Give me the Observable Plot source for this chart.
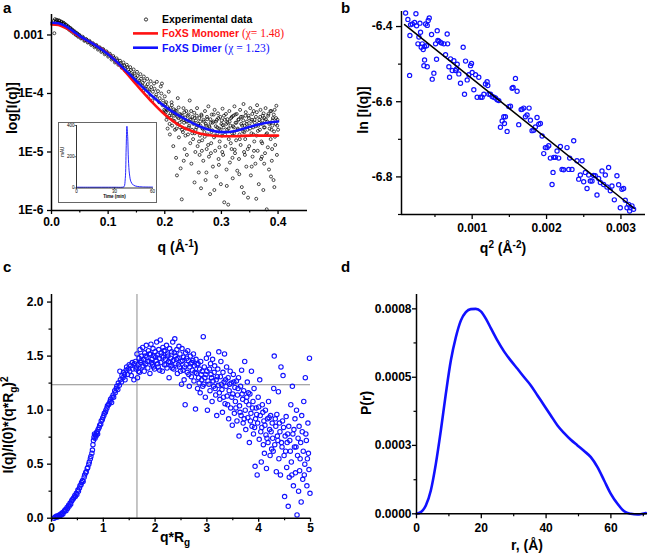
<!DOCTYPE html>
<html><head><meta charset="utf-8">
<script src="https://cdn.jsdelivr.net/npm/d3@7"></script>
<script src="https://cdn.jsdelivr.net/npm/@observablehq/plot@0.6"></script>
<style>
body{margin:0;background:#fff;}
#fig{position:relative;width:660px;height:558px;background:#fff;overflow:hidden;}
#fig svg{position:absolute;overflow:visible;}
#inset{position:absolute;left:58px;top:122px;width:97px;height:79px;border:1px solid #666;background:#fff;}
#inset svg{left:0;top:0;}
</style></head><body><div id="fig"></div>
<script>
// ---------- Panel a: SAXS profile (q, log10 I) ----------
const expIntensity = [
[0.004,-2.76],[0.005,-2.97],[0.006,-2.73],[0.007,-2.78],[0.008,-2.77],[0.009,-2.74],[0.010,-2.75],[0.011,-2.80],[0.012,-2.79],[0.013,-2.75],[0.014,-2.76],[0.015,-2.81],[0.016,-2.80],[0.017,-2.77],[0.018,-2.78],[0.019,-2.83],[0.020,-2.81],[0.021,-2.79],[0.022,-2.80],[0.023,-2.85],[0.024,-2.84],[0.025,-2.82],[0.026,-2.83],[0.027,-2.88],[0.028,-2.87],[0.029,-2.85],[0.030,-2.86],[0.031,-2.91],[0.032,-2.90],[0.033,-2.88],[0.034,-2.89],[0.035,-2.94],[0.036,-2.92],[0.037,-2.91],[0.038,-2.93],[0.039,-2.97],[0.040,-2.95],[0.041,-2.94],[0.042,-2.96],[0.043,-3.00],[0.044,-2.99],[0.045,-2.97],[0.046,-2.98],[0.047,-3.03],[0.048,-3.02],[0.049,-3.00],[0.050,-3.01],[0.052,-3.06],[0.053,-3.05],[0.055,-3.03],[0.056,-3.05],[0.058,-3.10],[0.059,-3.09],[0.061,-3.07],[0.062,-3.08],[0.064,-3.13],[0.065,-3.12],[0.067,-3.10],[0.068,-3.12],[0.070,-3.17],[0.071,-3.15],[0.073,-3.14],[0.074,-3.16],[0.076,-3.21],[0.077,-3.19],[0.079,-3.17],[0.080,-3.19],[0.082,-3.25],[0.083,-3.23],[0.085,-3.21],[0.086,-3.23],[0.088,-3.29],[0.089,-3.27],[0.091,-3.24],[0.092,-3.26],[0.094,-3.33],[0.095,-3.31],[0.097,-3.28],[0.098,-3.30],[0.100,-3.37],[0.101,-3.35],[0.103,-3.32],[0.104,-3.35],[0.106,-3.42],[0.107,-3.40],[0.109,-3.36],[0.110,-3.39],[0.112,-3.47],[0.113,-3.45],[0.115,-3.40],[0.116,-3.43],[0.118,-3.51],[0.119,-3.49],[0.121,-3.44],[0.122,-3.48],[0.124,-3.56],[0.125,-3.53],[0.127,-3.47],[0.128,-3.52],[0.130,-3.61],[0.131,-3.58],[0.133,-3.51],[0.134,-3.55],[0.136,-3.66],[0.137,-3.63],[0.139,-3.55],[0.140,-3.60],[0.142,-3.70],[0.143,-3.67],[0.145,-3.59],[0.146,-3.66],[0.148,-3.76],[0.149,-3.73],[0.151,-3.63],[0.152,-3.70],[0.154,-3.81],[0.155,-3.78],[0.157,-3.67],[0.158,-3.75],[0.160,-3.86],[0.161,-3.82],[0.162,-3.95],[0.163,-3.71],[0.164,-3.78],[0.166,-3.91],[0.167,-3.88],[0.169,-3.75],[0.170,-3.84],[0.171,-4.05],[0.172,-3.96],[0.173,-3.93],[0.175,-3.79],[0.176,-3.89],[0.178,-4.12],[0.179,-3.97],[0.181,-3.83],[0.182,-3.92],[0.184,-4.06],[0.185,-4.02],[0.186,-3.80],[0.188,-3.96],[0.190,-4.15],[0.191,-4.08],[0.193,-3.88],[0.194,-4.00],[0.195,-3.83],[0.196,-4.20],[0.197,-4.12],[0.199,-4.28],[0.200,-4.05],
[0.201,-4.18],[0.202,-4.32],[0.203,-4.45],[0.204,-4.22],[0.205,-4.60],[0.206,-4.28],[0.207,-3.97],[0.208,-4.38],[0.209,-4.70],[0.210,-4.25],[0.211,-4.41],[0.212,-4.15],[0.213,-4.55],[0.214,-4.33],[0.215,-4.90],[0.216,-4.27],[0.217,-4.47],[0.218,-4.62],[0.219,-4.36],[0.220,-5.10],[0.221,-4.30],[0.222,-4.52],[0.223,-4.08],[0.224,-4.42],[0.225,-4.75],[0.226,-4.35],[0.227,-4.58],[0.228,-5.28],[0.229,-4.44],[0.230,-5.81],[0.231,-4.38],[0.232,-4.66],[0.233,-4.25],[0.234,-4.50],[0.235,-4.95],[0.236,-4.41],[0.237,-4.60],[0.238,-4.30],[0.239,-5.05],[0.240,-4.48],[0.241,-4.70],[0.242,-4.36],[0.243,-4.55],[0.244,-4.12],[0.245,-4.85],[0.246,-4.45],[0.247,-5.20],[0.248,-4.62],[0.249,-4.40],[0.250,-4.78],[0.251,-4.50],[0.252,-4.33],[0.253,-4.68],[0.254,-5.00],[0.255,-4.46],[0.256,-4.58],[0.257,-4.25],[0.258,-4.90],[0.259,-4.52],[0.260,-5.35],[0.261,-4.42],[0.262,-4.72],[0.263,-4.55],[0.264,-5.62],[0.265,-4.38],[0.266,-4.80],[0.267,-4.60],[0.268,-5.15],[0.269,-4.48],[0.270,-4.66],[0.271,-4.30],[0.272,-5.48],[0.273,-4.55],[0.274,-4.95],[0.275,-4.44],[0.276,-4.70],[0.277,-4.22],[0.278,-5.08],[0.279,-4.58],[0.280,-5.72],[0.281,-4.50],[0.282,-4.85],[0.283,-4.36],[0.284,-4.63],[0.285,-5.25],[0.286,-4.48],[0.287,-4.75],[0.288,-4.28],[0.289,-4.98],[0.290,-4.56],[0.291,-5.42],[0.292,-4.45],[0.293,-4.68],[0.294,-4.34],[0.295,-5.12],[0.296,-4.60],[0.297,-4.82],[0.298,-4.40],[0.299,-5.55],[0.300,-4.52],[0.301,-4.72],[0.302,-4.26],[0.303,-5.05],[0.304,-4.58],[0.305,-5.86],[0.306,-4.45],[0.307,-4.90],[0.308,-4.35],[0.309,-5.30],[0.310,-4.62],[0.311,-4.50],[0.312,-5.90],[0.313,-4.78],[0.314,-4.30],[0.315,-5.18],[0.316,-4.55],[0.317,-4.42],[0.318,-4.95],[0.319,-4.68],[0.320,-5.45],[0.321,-4.38],[0.322,-4.58],[0.323,-4.22],[0.324,-5.02],[0.325,-4.50],[0.326,-4.80],[0.327,-4.35],[0.328,-5.32],[0.329,-4.60],[0.330,-4.45],[0.331,-5.12],[0.332,-4.70],[0.333,-4.28],[0.334,-4.88],[0.335,-4.52],[0.336,-5.60],[0.337,-4.40],[0.338,-4.65],[0.339,-4.18],[0.340,-5.00],[0.341,-4.55],[0.342,-4.78],[0.343,-4.32],[0.344,-5.25],[0.345,-4.48],[0.346,-4.62],[0.347,-5.78],[0.348,-4.38],[0.349,-4.90],[0.350,-4.55],[0.351,-4.25],[0.352,-5.40],[0.353,-4.68],[0.354,-4.45],[0.355,-5.08],[0.356,-4.58],[0.357,-4.30],[0.358,-4.82],[0.359,-4.50],[0.360,-5.20],[0.361,-4.40],[0.362,-4.72],[0.363,-4.20],[0.364,-4.98],[0.365,-4.55],[0.366,-5.55],[0.367,-4.45],[0.368,-4.62],[0.369,-4.28],[0.370,-5.12],[0.371,-4.52],[0.372,-4.85],[0.373,-4.38],[0.374,-5.65],[0.375,-4.58],[0.376,-4.42],[0.377,-5.02],[0.378,-4.25],[0.379,-4.70],[0.380,-5.98],[0.381,-4.48],[0.382,-4.92],[0.383,-4.35],[0.384,-5.30],[0.385,-4.60],[0.386,-4.50],[0.387,-4.78],[0.388,-4.30],[0.389,-5.15],[0.390,-4.55],[0.391,-4.42],[0.392,-5.48],[0.393,-4.65],[0.394,-4.28],[0.395,-4.88],[0.396,-4.52],[0.397,-4.21],[0.398,-5.05],[0.399,-4.45],[0.400,-4.62],
[0.2005,-4.30],[0.2025,-4.15],[0.2045,-4.40],[0.2065,-4.26],[0.2085,-4.52],[0.2105,-4.34],[0.2125,-4.20],[0.2145,-4.46],[0.2165,-4.38],[0.2185,-4.29],[0.2205,-4.60],[0.2225,-4.40],[0.2245,-4.24],[0.2265,-4.50],[0.2285,-4.36],[0.2305,-4.62],[0.2325,-4.45],[0.2345,-4.32],[0.2365,-4.72],[0.2385,-4.48],[0.2405,-4.38],[0.2425,-4.58],[0.2445,-4.44],[0.2465,-4.30],[0.2485,-4.68],[0.2505,-4.52],[0.2525,-4.42],[0.2545,-4.62],[0.2565,-4.38],[0.2585,-4.55],[0.2605,-4.82],[0.2625,-4.48],[0.2645,-4.36],[0.2665,-4.60],[0.2685,-4.45],[0.2705,-4.74],[0.2725,-4.52],[0.2745,-4.40],[0.2765,-4.88],[0.2785,-4.56],[0.2805,-4.44],[0.2825,-4.66],[0.2845,-4.50],[0.2865,-4.36],[0.2885,-4.72],[0.2905,-4.48],[0.2925,-4.58],[0.2945,-4.42],[0.2965,-4.92],[0.2985,-4.62],[0.3005,-4.46],[0.3025,-4.54],[0.3045,-4.38],[0.3065,-4.70],[0.3085,-4.52],[0.3105,-4.44],[0.3125,-4.60],[0.3145,-4.48],[0.3165,-4.85],[0.3185,-4.40],[0.3205,-4.56],[0.3225,-4.68],[0.3245,-4.36],[0.3265,-4.50],[0.3285,-4.62],[0.3305,-4.44],[0.3325,-4.78],[0.3345,-4.40],[0.3365,-4.55],[0.3385,-4.46],[0.3405,-4.66],[0.3425,-4.38],[0.3445,-4.52],[0.3465,-4.95],[0.3485,-4.42],[0.3505,-4.60],[0.3525,-4.48],[0.3545,-4.35],[0.3565,-4.70],[0.3585,-4.45],[0.3605,-4.56],[0.3625,-4.32],[0.3645,-4.64],[0.3665,-4.50],[0.3685,-4.40],[0.3705,-4.82],[0.3725,-4.46],[0.3745,-4.34],[0.3765,-4.58],[0.3785,-4.44],[0.3805,-4.68],[0.3825,-4.38],[0.3845,-4.52],[0.3865,-4.30],[0.3885,-4.62],[0.3905,-4.46],[0.3925,-4.36],[0.3945,-4.74],[0.3965,-4.42],[0.3985,-4.55],
[0.2215,-5.40],[0.2335,-5.15],[0.2525,-5.52],[0.2615,-5.05],[0.2735,-5.35],[0.2875,-5.65],[0.2955,-5.22],[0.3095,-5.58],[0.3195,-5.10],[0.3315,-5.38],[0.3395,-5.70],[0.3535,-5.25],[0.3615,-5.80],[0.3755,-5.20],[0.3875,-5.42],[0.3935,-5.60],[0.2655,-4.98],[0.2815,-5.02],[0.3015,-5.00],[0.3235,-4.96],[0.3415,-5.05],[0.3575,-4.98],[0.3715,-5.08],[0.3895,-4.95]
];
const fitQ        = [0, 0.0125, 0.025, 0.0375, 0.05, 0.075, 0.1, 0.125, 0.15, 0.175, 0.2, 0.225, 0.25, 0.275, 0.3, 0.325, 0.35, 0.375, 0.4];
const monomerLogI = [-2.82, -2.83, -2.88, -2.95, -3.03, -3.16, -3.32, -3.57, -3.85, -4.12, -4.36, -4.54, -4.65, -4.71, -4.73, -4.73, -4.72, -4.72, -4.72];
const dimerLogI   = [-2.79, -2.80, -2.85, -2.93, -3.02, -3.16, -3.33, -3.55, -3.79, -4.02, -4.22, -4.38, -4.51, -4.61, -4.66, -4.64, -4.57, -4.51, -4.48];
const aXTicks = [0, 0.1, 0.2, 0.3, 0.4];
const aXTickLabels = ["0.0", "0.1", "0.2", "0.3", "0.4"];
const aXMinor = [0.05, 0.15, 0.25, 0.35];
const aYTicks = [-6, -5, -4, -3];
const aYTickLabels = ["1E-6", "1E-5", "1E-4", "0.001"];

// inset: SEC chromatogram
const hplcTime = [0, 10, 20, 30, 36, 37.5, 38.5, 39.2, 39.8, 40.4, 41, 41.8, 43, 45, 48, 52, 60];
const hplcAbs  = [5, 5, 5, 5, 5, 8, 60, 250, 395, 330, 180, 90, 40, 18, 10, 7, 6];
const insetXTicks = [0, 30, 60];
const insetYTicks = [0, 200, 400];

// ---------- Panel b: Guinier (q^2, ln I) ----------
const guinierPts = [
[0.000105,-6.364],[0.000136,-6.381],[0.000163,-6.424],[0.000172,-6.395],[0.000195,-6.393],[0.000226,-6.389],[0.000244,-6.366],[0.000253,-6.398],[0.000271,-6.446],[0.000298,-6.391],[0.000159,-6.530],[0.000284,-6.428],[0.000306,-6.415],[0.000329,-6.446],[0.000342,-6.461],[0.000360,-6.453],[0.000374,-6.393],[0.000396,-6.397],[0.000409,-6.384],[0.000423,-6.377],[0.000387,-6.451],[0.000315,-6.455],[0.000351,-6.504],[0.000360,-6.489],[0.000396,-6.507],[0.000454,-6.421],[0.000463,-6.540],[0.000485,-6.524],[0.000508,-6.446],[0.000530,-6.411],[0.000521,-6.487],[0.000539,-6.437],[0.000553,-6.439],[0.000575,-6.442],[0.000588,-6.444],[0.000620,-6.446],[0.000664,-6.420],[0.000642,-6.475],[0.000670,-6.446],[0.000687,-6.507],[0.000696,-6.535],[0.000709,-6.486],[0.000732,-6.517],[0.000754,-6.491],[0.000776,-6.517],[0.000790,-6.513],[0.000799,-6.500],[0.000821,-6.526],[0.000843,-6.551],[0.000879,-6.455],[0.000897,-6.580],[0.000911,-6.492],[0.000933,-6.542],[0.000955,-6.528],[0.000978,-6.504],[0.000991,-6.498],[0.001000,-6.522],[0.001022,-6.568],[0.001045,-6.528],[0.001067,-6.588],[0.001089,-6.535],[0.001112,-6.588],[0.001134,-6.588],[0.001157,-6.580],[0.001179,-6.553],[0.001201,-6.547],[0.001210,-6.557],[0.001224,-6.580],[0.001246,-6.580],[0.001268,-6.586],[0.001291,-6.588],[0.001313,-6.590],[0.001336,-6.595],[0.001358,-6.597],[0.001380,-6.668],[0.001403,-6.651],[0.001425,-6.640],[0.001434,-6.658],[0.001447,-6.640],[0.001470,-6.679],[0.001492,-6.613],[0.001515,-6.612],[0.001537,-6.564],[0.001550,-6.562],[0.001582,-6.538],[0.001604,-6.572],[0.001626,-6.661],[0.001658,-6.621],[0.001671,-6.620],[0.001694,-6.617],[0.001716,-6.640],[0.001738,-6.635],[0.001765,-6.617],[0.001783,-6.649],[0.001805,-6.677],[0.001828,-6.676],[0.001850,-6.667],[0.001872,-6.642],[0.001895,-6.660],[0.001917,-6.658],[0.001940,-6.691],[0.001962,-6.738],[0.001984,-6.722],[0.002007,-6.722],[0.002029,-6.717],[0.002051,-6.750],[0.002074,-6.820],[0.002087,-6.788],[0.002096,-6.748],[0.002119,-6.748],[0.002141,-6.731],[0.002163,-6.750],[0.002186,-6.719],[0.002208,-6.780],[0.002230,-6.781],[0.002275,-6.722],[0.002298,-6.780],[0.002311,-6.750],[0.002342,-6.780],[0.002365,-6.704],[0.002409,-6.757],[0.002432,-6.806],[0.002454,-6.795],[0.002477,-6.757],[0.002499,-6.813],[0.002521,-6.788],[0.002544,-6.831],[0.002566,-6.795],[0.002588,-6.811],[0.002611,-6.811],[0.002633,-6.796],[0.002655,-6.797],[0.002678,-6.848],[0.002700,-6.804],[0.002723,-6.815],[0.002745,-6.784],[0.002767,-6.820],[0.002790,-6.795],[0.002812,-6.827],[0.002834,-6.775],[0.002857,-6.837],[0.002879,-6.824],[0.002911,-6.861],[0.002946,-6.797],[0.002969,-6.821],[0.002991,-6.882],[0.003013,-6.833],[0.003036,-6.831],[0.003058,-6.862],[0.003081,-6.882],[0.003103,-6.873],[0.003116,-6.891],[0.003125,-6.882],[0.003148,-6.877],[0.003170,-6.886]
];
const guinierFit = [[0.0000913, -6.395], [0.003179, -6.884]];
const bXTicks = [0.001, 0.002, 0.003];
const bXTickLabels = ["0.001", "0.002", "0.003"];
const bXMinor = [0.0005, 0.0015, 0.0025];
const bYTicks = [-6.8, -6.6, -6.4];
const bYTickLabels = ["-6.8", "-6.6", "-6.4"];
const bYMinor = [-6.9, -6.7, -6.5];

// ---------- Panel c: dimensionless Kratky ----------
const kratkyPts = [
[0.05,0.00],[0.07,0.01],[0.09,0.01],[0.10,0.02],[0.12,0.01],[0.13,0.02],[0.15,0.03],[0.16,0.02],[0.18,0.04],[0.19,0.03],[0.21,0.05],[0.22,0.04],[0.24,0.06],[0.25,0.07],[0.27,0.08],[0.28,0.07],[0.30,0.10],[0.31,0.09],[0.33,0.12],[0.34,0.11],[0.36,0.14],[0.37,0.13],[0.39,0.16],[0.40,0.17],[0.42,0.18],[0.43,0.19],[0.45,0.21],[0.46,0.20],[0.48,0.23],[0.49,0.22],[0.51,0.26],[0.52,0.25],[0.54,0.28],[0.55,0.30],[0.57,0.31],[0.58,0.33],[0.60,0.35],[0.61,0.34],[0.63,0.38],[0.64,0.40],[0.66,0.42],[0.67,0.43],[0.69,0.46],[0.70,0.47],[0.72,0.50],[0.73,0.52],[0.75,0.55],[0.76,0.57],[0.78,0.60],[0.79,0.63],[0.80,0.68],[0.81,0.72],[0.82,0.75],[0.83,0.78],[0.84,0.74],[0.85,0.77],[0.86,0.76],[0.87,0.79],[0.88,0.80],[0.89,0.78],[0.90,0.82],[0.92,0.84],[0.93,0.86],[0.95,0.87],[0.96,0.90],[0.98,0.91],[0.99,0.93],[1.01,0.95],[1.02,0.97],[1.04,0.98],[1.05,1.00],[1.07,1.02],[1.08,1.04],[1.10,1.05],[1.11,1.06],[1.13,1.08],[1.14,1.10],[1.16,1.07],[1.17,1.12],[1.19,1.14],[1.20,1.12],[1.22,1.18],[1.23,1.16],[1.25,1.20],[1.26,1.22],[1.28,1.19],[1.29,1.25],[1.31,1.23],[1.32,1.36],[1.33,1.28],[1.35,1.26],[1.36,1.32],[1.38,1.30],[1.39,1.35],[1.41,1.33],[1.42,1.28],[1.44,1.37],[1.45,1.40],[1.47,1.33],[1.48,1.38],[1.50,1.42],[1.51,1.36],[1.53,1.41],[1.54,1.32],[1.56,1.44],[1.57,1.38],[1.59,1.28],[1.60,1.43],
[1.62,1.45],[1.63,1.38],[1.65,1.52],[1.66,1.30],[1.67,1.42],[1.69,1.48],[1.70,1.35],[1.71,1.56],[1.72,1.44],[1.74,1.50],[1.75,1.40],[1.76,1.58],[1.78,1.47],[1.79,1.36],[1.80,1.53],[1.82,1.43],[1.83,1.60],[1.84,1.49],[1.86,1.39],[1.87,1.55],[1.88,1.45],[1.90,1.34],[1.91,1.52],[1.92,1.61],[1.94,1.47],[1.95,1.42],[1.96,1.57],[1.98,1.50],[1.99,1.38],[2.00,1.54],[2.02,1.46],[2.03,1.63],[2.04,1.51],[2.06,1.40],[2.07,1.56],[2.08,1.48],[2.10,1.65],[2.11,1.44],[2.12,1.53],[2.14,1.36],[2.15,1.58],[2.16,1.49],[2.18,1.42],[2.19,1.55],[2.20,1.47],[2.22,1.60],[2.23,1.39],[2.24,1.52],[2.26,1.45],[2.27,1.30],[2.28,1.57],[2.30,1.48],[2.31,1.41],[2.32,1.54],[2.34,1.63],[2.35,1.46],[2.36,1.38],[2.38,1.66],[2.39,1.50],[2.40,1.43],[2.42,1.56],[2.43,1.34],[2.44,1.48],[2.46,1.59],[2.47,1.40],[2.48,1.52],[2.50,1.45],[2.51,1.24],[2.52,1.57],[2.54,1.37],[2.55,1.49],[2.56,1.28],[2.58,1.05],[2.59,1.53],[2.60,1.42],[2.62,1.35],[2.63,1.55],[2.64,1.46],[2.66,1.22],[2.67,1.40],[2.68,1.50],[2.70,1.31],[2.71,1.44],[2.72,1.37],[2.74,1.52],[2.75,1.27],[2.76,1.41],[2.78,1.01],[2.79,1.47],[2.80,1.34],[2.82,1.20],[2.83,1.43],[2.84,1.30],[2.86,1.38],[2.87,1.16],[2.88,1.45],[2.90,1.28],[2.91,1.36],[2.93,1.68],[2.94,1.24],[2.95,1.40],[2.97,1.12],[2.98,1.33],[2.99,1.48],[3.01,1.00],[3.02,1.27],[3.03,1.52],[3.05,1.38],[3.06,1.18],[3.07,1.43],[3.09,1.30],[3.10,1.08],[3.11,1.47],[3.13,1.22],[3.14,1.35],[3.15,1.41],[3.17,1.14],[3.18,1.28],[3.19,0.95],[3.21,1.38],[3.22,1.23],[3.23,1.54],[3.25,1.10],[3.26,1.31],[3.27,1.45],[3.29,1.19],[3.30,0.98],[3.31,1.35],[3.33,1.26],[3.34,1.52],[3.35,1.06],[3.37,1.22],[3.38,1.40],[3.39,1.13],[3.41,1.30],[3.42,0.92],[3.43,1.18],[3.45,1.36],[3.46,1.02],[3.47,1.25],[3.49,0.86],[3.50,1.15],[3.51,1.33],[3.53,0.97],[3.54,1.21],[3.55,1.08],[3.57,1.27],[3.58,0.90],[3.59,1.14],[3.61,1.30],[3.62,0.76],[3.63,1.04],[3.65,1.22],[3.66,0.95],[3.67,1.37],[3.69,1.10],[3.70,0.88],[3.71,1.18],[3.73,1.45],[3.74,1.00],[3.75,0.82],[3.77,1.12],[3.78,1.26],[3.79,0.93],[3.81,1.05],[3.82,0.70],[3.83,1.15],[3.85,0.97],[3.86,1.36],[3.87,0.85],[3.89,1.08],[3.90,0.78],[3.91,1.20],[3.93,0.48],[3.94,0.92],[3.95,1.02],[3.97,0.40],[3.98,0.88],[3.99,1.12],[4.01,0.73],[4.02,1.28],[4.03,0.95],[4.05,0.52],[4.06,0.84],[4.07,1.05],[4.09,0.68],[4.10,0.90],[4.11,0.60],[4.13,1.00],[4.14,0.77],[4.15,0.46],[4.17,0.92],[4.18,0.70],[4.19,1.08],[4.21,0.82],[4.22,0.58],[4.23,0.95],[4.25,0.64],[4.26,0.88],[4.27,0.74],[4.29,1.20],[4.30,1.50],[4.31,0.68],[4.33,0.85],[4.34,0.43],[4.35,0.96],[4.37,0.72],[4.38,1.17],[4.39,0.55],[4.41,0.80],[4.42,0.40],[4.43,1.40],[4.45,0.66],[4.46,0.90],[4.47,1.32],[4.49,0.58],[4.50,0.20],[4.51,0.76],[4.53,0.94],[4.54,0.47],[4.55,0.70],[4.57,0.11],[4.58,0.85],[4.59,0.38],[4.61,0.62],[4.62,1.05],[4.63,0.52],[4.65,1.22],[4.66,0.78],[4.67,0.30],[4.69,0.66],[4.70,0.92],[4.71,0.42],[4.73,1.00],[4.74,0.03],[4.75,0.58],[4.77,0.25],[4.78,0.85],[4.79,0.44],[4.81,0.70],[4.82,0.15],[4.83,0.95],[4.85,0.36],[4.86,0.62],[4.87,1.08],[4.89,0.50],[4.90,1.30],[4.91,0.78],[4.93,0.30],[4.94,0.55],[4.95,0.88],[4.97,0.45],[4.98,1.48],[4.99,0.23],
[1.64,1.40],[1.68,1.36],[1.73,1.46],[1.77,1.41],[1.81,1.50],[1.85,1.45],[1.89,1.52],[1.93,1.44],[1.97,1.40],[2.01,1.49],[2.05,1.43],[2.09,1.37],[2.13,1.50],[2.17,1.55],[2.21,1.42],[2.25,1.50],[2.29,1.44],[2.33,1.39],[2.37,1.53],[2.41,1.47],[2.45,1.42],[2.49,1.36],[2.53,1.46],[2.57,1.40],[2.61,1.48],[2.65,1.33],[2.69,1.43],[2.73,1.46],[2.77,1.35],[2.81,1.42],[2.85,1.25],[2.89,1.33],[2.92,1.22],[2.96,1.30],[3.00,1.36],[3.04,1.24],[3.08,1.33],[3.12,1.27],[3.16,1.20],[3.20,1.31],[3.24,1.16],[3.28,1.24],[3.32,1.12],[3.36,1.28],[3.40,1.05],[3.44,1.24],[3.48,1.12],[3.52,1.26],[3.56,1.02],[3.60,1.20],[3.64,0.98],[3.68,1.15],[3.72,0.92],[3.76,1.08],[3.80,1.16],[3.84,0.90],[3.88,1.02],[3.92,0.84],[3.96,0.96],[4.00,1.03],[4.04,0.80],[4.08,0.98],[4.12,0.86],[4.16,0.74],[4.20,0.93],[4.24,0.80],[4.28,0.62],[4.32,0.92],[4.36,0.76],[4.40,0.88],[4.44,0.70],[4.48,0.84],[4.52,0.62],[4.56,0.78],[4.60,0.72],[4.64,0.40],[4.68,0.82],[4.72,0.66],[4.76,0.74],[4.80,0.55],[4.84,0.80],[4.88,0.40],[4.92,0.72],[4.96,0.60]
];
const kratkyGuideX = 1.65;
const kratkyGuideY = 1.235;
const cXTicks = [0, 1, 2, 3, 4, 5];
const cXTickLabels = ["0", "1", "2", "3", "4", "5"];
const cXMinor = [0.5, 1.5, 2.5, 3.5, 4.5];
const cYTicks = [0, 0.5, 1, 1.5, 2];
const cYTickLabels = ["0.0", "0.5", "1.0", "1.5", "2.0"];
const cYMinor = [0.25, 0.75, 1.25, 1.75];

// ---------- Panel d: pair distance distribution ----------
const prR = [0, 1.34, 2.88, 4.42, 5.97, 7.51, 9.05, 10.60, 12.14, 13.68, 15.23, 16.77, 18.31, 19.86, 21.40, 22.94, 25.00, 27.06, 29.12, 31.17, 33.23, 35.29, 37.35, 39.40, 41.46, 43.52, 45.58, 47.63, 49.69, 51.75, 53.81, 55.86, 57.92, 59.98, 62.04, 64.09, 66.15, 68.21, 69.75, 70.78];
const prP = [0, 0.0000065, 0.0000325, 0.0000911, 0.000195, 0.000325, 0.000468, 0.000598, 0.000689, 0.000754, 0.000787, 0.000799, 0.000800, 0.000790, 0.000762, 0.000725, 0.000676, 0.000633, 0.000598, 0.000566, 0.000533, 0.000501, 0.000462, 0.000423, 0.000384, 0.000345, 0.000315, 0.000289, 0.000267, 0.000245, 0.000221, 0.000182, 0.000130, 0.000078, 0.000039, 0.000010, 0, -0.000003, 0, 0.000003];
const dXTicks = [0, 20, 40, 60];
const dXTickLabels = ["0", "20", "40", "60"];
const dXMinor = [10, 30, 50, 70];
const dYTicks = [0, 0.000267, 0.000533, 0.0008];
const dYTickLabels = ["0.0000", "0.0003", "0.0005", "0.0008"];
const dYMinor = [0.000133, 0.0004, 0.000667];

// ---------- drawing ----------
const BLUE = "#1111ff", RED = "#ff1111";
const FONT = "'Liberation Sans', Arial, sans-serif";
const baseStyle = {fontFamily: FONT, fontSize: "12px", fontWeight: "bold", color: "black", background: "transparent", overflow: "visible"};
const fmt = (ticks, labels) => { const m = new Map(ticks.map((t, i) => [t, labels[i]])); return d => m.get(d); };
const blank = () => "";
const fig = document.getElementById("fig");
function place(svg, left, top) { svg.style.left = left + "px"; svg.style.top = top + "px"; fig.appendChild(svg); }

const fitTable = fitQ.map((q, i) => ({q, mono: monomerLogI[i], dim: dimerLogI[i]}));

// Panel a
const plotA = Plot.plot({
  width: 330, height: 280, marginLeft: 51, marginRight: 23, marginTop: 14, marginBottom: 70,
  style: baseStyle,
  x: {domain: [0, 0.452]}, y: {domain: [-6, -2.65]},
  marks: [
    Plot.dot(expIntensity, {x: d => d[0], y: d => d[1], r: 1.5, stroke: "black", strokeWidth: 0.7, fill: "none"}),
    Plot.line(fitTable, {x: "q", y: "mono", stroke: RED, strokeWidth: 2.6, curve: "catmull-rom"}),
    Plot.line(fitTable, {x: "q", y: "dim", stroke: BLUE, strokeWidth: 2.6, curve: "catmull-rom"}),
    Plot.ruleX([0], {strokeWidth: 1.5}),
    Plot.ruleY([-6], {strokeWidth: 1.5}),
    Plot.axisX(aXTicks, {tickSize: 4, tickPadding: 3, strokeWidth: 1.3, tickFormat: fmt(aXTicks, aXTickLabels), label: null}),
    Plot.axisX(aXMinor, {tickSize: 2.5, tickFormat: blank, strokeWidth: 1.2, label: null}),
    Plot.axisY(aYTicks, {tickSize: 4, tickPadding: 4, strokeWidth: 1.3, tickFormat: fmt(aYTicks, aYTickLabels), label: null})
  ]
});
place(plotA, 0, 0);

// Inset
const insetWrap = document.createElement("div");
insetWrap.id = "inset";
fig.appendChild(insetWrap);
const hplc = hplcTime.map((t, i) => ({t, a: hplcAbs[i]}));
const plotInset = Plot.plot({
  width: 97, height: 79, marginLeft: 17, marginRight: 4, marginTop: 2, marginBottom: 14.5,
  style: {fontFamily: FONT, fontSize: "4.5px", fontWeight: "normal", color: "black", background: "transparent", overflow: "visible"},
  x: {domain: [0, 60]}, y: {domain: [0, 400]},
  marks: [
    Plot.line(hplc, {x: "t", y: "a", stroke: BLUE, strokeWidth: 0.9, curve: "catmull-rom"}),
    Plot.ruleX([0], {strokeWidth: 0.8}),
    Plot.ruleY([0], {strokeWidth: 0.8}),
    Plot.axisX(insetXTicks, {tickSize: 1.5, tickPadding: 0.5, strokeWidth: 0.6, label: null}),
    Plot.axisY(insetYTicks, {tickSize: 1.5, tickPadding: 0.5, strokeWidth: 0.6, label: null}),
    Plot.text(["Time (min)"], {frameAnchor: "bottom", dy: 10, fontSize: 4.5, fontWeight: "bold"}),
    Plot.text(["mAU"], {frameAnchor: "left", dx: -13.5, rotate: -90, fontSize: 4.5})
  ]
});
insetWrap.appendChild(plotInset);

// Panel b
const plotB = Plot.plot({
  width: 330, height: 280, marginLeft: 71, marginRight: 15, marginTop: 11, marginBottom: 66,
  style: baseStyle,
  x: {domain: [0.00005, 0.00333]}, y: {domain: [-6.9, -6.36]},
  marks: [
    Plot.dot(guinierPts, {x: d => d[0], y: d => d[1], r: 2.1, stroke: BLUE, strokeWidth: 1.2, fill: "none"}),
    Plot.line(guinierFit, {x: d => d[0], y: d => d[1], stroke: "black", strokeWidth: 1.5}),
    Plot.ruleX([0.00005], {strokeWidth: 1.5}),
    Plot.ruleY([-6.9], {strokeWidth: 1.5}),
    Plot.axisX(bXTicks, {tickSize: 5, tickPadding: 4, strokeWidth: 1.3, tickFormat: fmt(bXTicks, bXTickLabels), label: null}),
    Plot.axisX(bXMinor, {tickSize: 3, tickFormat: blank, strokeWidth: 1.2, label: null}),
    Plot.axisY(bYTicks, {tickSize: 5, tickPadding: 4, strokeWidth: 1.3, tickFormat: fmt(bYTicks, bYTickLabels), label: null}),
    Plot.axisY(bYMinor, {tickSize: 3, tickFormat: blank, strokeWidth: 1.2, label: null})
  ]
});
place(plotB, 330, 0);

// Panel c
const plotC = Plot.plot({
  width: 330, height: 278, marginLeft: 51, marginRight: 20, marginTop: 14, marginBottom: 40.3,
  style: baseStyle,
  x: {domain: [0, 5]}, y: {domain: [0, 2.07]},
  marks: [
    Plot.ruleX([kratkyGuideX], {stroke: "#8c8c8c", strokeWidth: 1}),
    Plot.ruleY([kratkyGuideY], {stroke: "#8c8c8c", strokeWidth: 1}),
    Plot.dot(kratkyPts, {x: d => d[0], y: d => d[1], r: 2.2, stroke: BLUE, strokeWidth: 1.1, fill: "none"}),
    Plot.ruleX([0], {strokeWidth: 1.5}),
    Plot.ruleY([0], {strokeWidth: 1.5}),
    Plot.axisX(cXTicks, {tickSize: 4, tickPadding: 1, strokeWidth: 1.3, tickFormat: fmt(cXTicks, cXTickLabels), label: null}),
    Plot.axisX(cXMinor, {tickSize: 2.5, tickFormat: blank, strokeWidth: 1.2, label: null}),
    Plot.axisY(cYTicks, {tickSize: 4, tickPadding: 4, strokeWidth: 1.3, tickFormat: fmt(cYTicks, cYTickLabels), label: null}),
    Plot.axisY(cYMinor, {tickSize: 2.5, tickFormat: blank, strokeWidth: 1.2, label: null})
  ]
});
place(plotC, 0, 280);

// Panel d
const prTable = prR.map((r, i) => ({r, p: prP[i]}));
const plotD = Plot.plot({
  width: 330, height: 278, marginLeft: 86, marginRight: 13, marginTop: 14, marginBottom: 44.7,
  style: baseStyle,
  x: {domain: [0, 71.3]}, y: {domain: [0, 0.000856]},
  marks: [
    Plot.line(prTable, {x: "r", y: "p", stroke: BLUE, strokeWidth: 2.6, curve: "monotone-x"}),
    Plot.ruleX([0], {strokeWidth: 1.5}),
    Plot.ruleY([0], {strokeWidth: 1.5}),
    Plot.axisX(dXTicks, {tickSize: 5, tickPadding: 5, strokeWidth: 1.3, tickFormat: fmt(dXTicks, dXTickLabels), label: null}),
    Plot.axisX(dXMinor, {tickSize: 3, tickFormat: blank, strokeWidth: 1.2, label: null}),
    Plot.axisY(dYTicks, {tickSize: 4, tickPadding: 1, strokeWidth: 1.3, tickFormat: fmt(dYTicks, dYTickLabels), label: null}),
    Plot.axisY(dYMinor, {tickSize: 2.5, tickFormat: blank, strokeWidth: 1.2, label: null})
  ]
});
place(plotD, 330, 280);

// ---------- overlay text: panel letters, axis titles, legend ----------
const ov = d3.select(fig).append("svg")
  .attr("width", 660).attr("height", 558)
  .style("left", "0px").style("top", "0px").style("pointer-events", "none")
  .attr("font-family", FONT).attr("font-weight", "bold").attr("font-size", 14);

function label(x, y, rot, parts) {
  const t = ov.append("text").attr("text-anchor", "middle")
    .attr("transform", `translate(${x},${y})` + (rot ? ` rotate(${rot})` : ""));
  let shift = 0;
  for (const p of parts) {
    const s = t.append("tspan").text(p.t);
    const target = p.sup ? -5.5 : p.sub ? 3.5 : 0;
    if (target !== shift) { s.attr("dy", target - shift); shift = target; }
    if (p.sup || p.sub) s.attr("font-size", 10);
  }
  return t;
}
// panel letters
[["a", 3, 13], ["b", 341, 13], ["c", 3, 272], ["d", 341, 272]].forEach(([s, x, y]) =>
  ov.append("text").attr("x", x).attr("y", y).attr("font-size", 15).text(s));

label(17, 108, -90, [{t: "log[I(q)]"}]);
label(178, 252, 0, [{t: "q (Å"}, {t: "-1", sup: true}, {t: ")"}]);
label(368, 110, -90, [{t: "ln [I(q)]"}]);
label(503, 253, 0, [{t: "q"}, {t: "2", sup: true}, {t: " (Å"}, {t: "-2", sup: true}, {t: ")"}]);
label(13, 425, -90, [{t: "I(q)/I(0)*(q*R"}, {t: "g", sub: true}, {t: ")"}, {t: "2", sup: true}]);
label(175, 542, 0, [{t: "q*R"}, {t: "g", sub: true}]);
label(371, 403, -90, [{t: "P(r)"}]);
label(527, 550, 0, [{t: "r, (Å)"}]);

// legend (panel a)
const lg = ov.append("g").attr("font-size", 10.5);
lg.append("circle").attr("cx", 146).attr("cy", 19.5).attr("r", 1.6).attr("fill", "none").attr("stroke", "black").attr("stroke-width", 0.8);
lg.append("line").attr("x1", 133).attr("x2", 158).attr("y1", 33.4).attr("y2", 33.4).attr("stroke", RED).attr("stroke-width", 2.6);
lg.append("line").attr("x1", 133).attr("x2", 158).attr("y1", 47.7).attr("y2", 47.7).attr("stroke", BLUE).attr("stroke-width", 2.6);
lg.append("text").attr("x", 162).attr("y", 23.3).text("Experimental data");
const t1 = lg.append("text").attr("x", 162).attr("y", 37.3).attr("fill", RED);
t1.append("tspan").text("FoXS Monomer ");
t1.append("tspan").attr("font-family", "'Liberation Serif', 'Times New Roman', serif").attr("font-weight", "normal").attr("font-size", 11.5).text("(χ= 1.48)");
const t2 = lg.append("text").attr("x", 162).attr("y", 51.6).attr("fill", BLUE);
t2.append("tspan").text("FoXS Dimer ");
t2.append("tspan").attr("font-family", "'Liberation Serif', 'Times New Roman', serif").attr("font-weight", "normal").attr("font-size", 11.5).text("(χ = 1.23)");
</script></body></html>
